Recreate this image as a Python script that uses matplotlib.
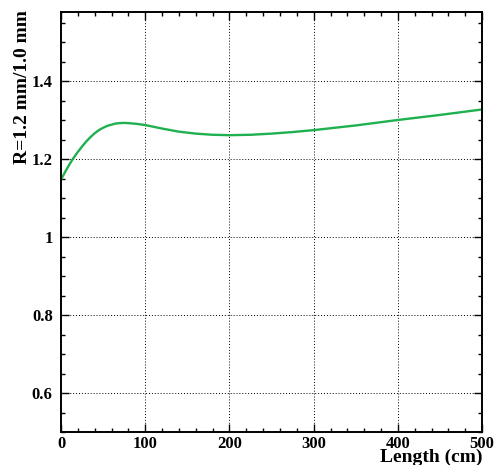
import matplotlib
matplotlib.use("Agg")
import matplotlib.pyplot as plt
from matplotlib.ticker import MultipleLocator, FuncFormatter

length_cm = [0, 5, 10, 15, 20, 25, 30, 35, 40, 45, 50, 55, 60, 65, 70, 75, 80,
             90, 100, 120, 140, 160, 180, 200, 225, 250, 275, 300, 350, 400,
             450, 500]
ratio = [1.148, 1.168, 1.187, 1.204, 1.219, 1.233, 1.246, 1.257, 1.267, 1.275,
         1.281, 1.286, 1.289, 1.292, 1.293, 1.2935, 1.293, 1.291, 1.288, 1.279,
         1.271, 1.266, 1.263, 1.262, 1.263, 1.266, 1.270, 1.275, 1.287, 1.301,
         1.314, 1.328]

plt.rcParams['font.family'] = ['Liberation Serif', 'DejaVu Serif']
plt.rcParams['font.weight'] = 'bold'

fig = plt.figure(figsize=(4.96, 4.65), dpi=100)
ax = fig.add_axes([0.123, 0.071, 0.849, 0.903])

ax.plot(length_cm, ratio, color='#1fb04f', lw=1.7)

ax.set_xlim(0, 500)
ax.set_ylim(0.5, 1.578)
ax.xaxis.set_major_locator(MultipleLocator(100))
ax.xaxis.set_minor_locator(MultipleLocator(20))
ax.yaxis.set_major_locator(MultipleLocator(0.2))
ax.yaxis.set_minor_locator(MultipleLocator(0.05))
ax.yaxis.set_major_formatter(FuncFormatter(lambda v, p: f"{v:g}"))

ax.grid(True, which='major', color='black', linestyle=(0, (1, 2)), lw=0.7)
ax.tick_params(which='both', direction='in', top=True, right=True,
               labelsize=12, width=1.0)
ax.tick_params(which='major', length=6)
ax.tick_params(which='minor', length=3)
ax.tick_params(axis='x', which='major', pad=3)
ax.tick_params(axis='y', which='major', pad=6)
for lbl in ax.get_xticklabels() + ax.get_yticklabels():
    lbl.set_fontweight('bold')
for s in ax.spines.values():
    s.set_linewidth(1.4)

fig.text(0.972, -0.002, 'Length (cm)', ha='right', va='bottom',
         fontsize=14, fontweight='bold')
fig.text(0.045, 0.978, 'R=1.2 mm/1.0 mm', ha='center', va='top',
         rotation=90, fontsize=14, fontweight='bold')

fig.savefig('out.png', dpi=100)
